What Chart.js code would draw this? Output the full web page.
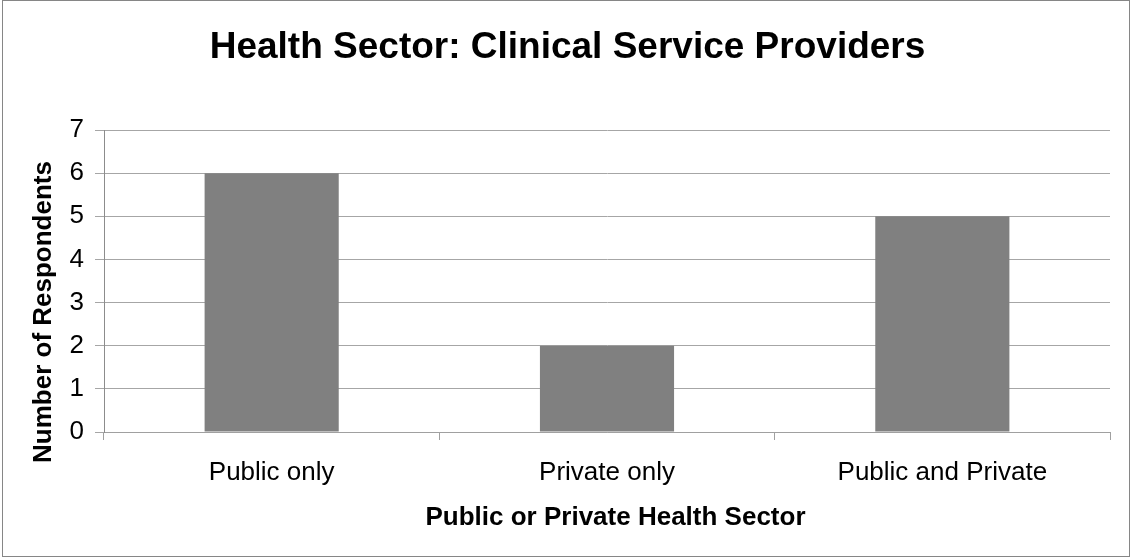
<!DOCTYPE html>
<html>
<head>
<meta charset="utf-8">
<script src="https://cdn.jsdelivr.net/npm/chart.js@4/dist/chart.umd.min.js"></script>
<style>
html,body{margin:0;padding:0;background:#fff;}
#wrap{width:1133px;height:559px;position:relative;}
</style>
</head>
<body>
<div id="wrap"><canvas id="c" width="1133" height="559"></canvas></div>
<script>
const chartTitle = "Health Sector: Clinical Service Providers";
const categories = ["Public only", "Private only", "Public and Private"];
const respondents = [6, 2, 5];
const yTickMin = 0;
const yTickMax = 7;
const xAxisTitle = "Public or Private Health Sector";
const yAxisTitle = "Number of Respondents";

const FONT = "'Liberation Sans', Arial, sans-serif";

const frameAndTitles = {
  id: 'frameAndTitles',
  beforeDraw(chart) {
    const ctx = chart.ctx;
    ctx.save();
    ctx.fillStyle = '#ffffff';
    ctx.fillRect(0, 0, chart.width, chart.height);
    ctx.strokeStyle = '#868686';
    ctx.lineWidth = 1;
    ctx.strokeRect(2.5, 0.5, 1127, 556);
    ctx.restore();
  },
  afterDraw(chart) {
    const ctx = chart.ctx;
    ctx.save();
    ctx.fillStyle = '#000';
    ctx.textAlign = 'center';
    ctx.textBaseline = 'alphabetic';
    // chart title
    ctx.font = "bold 37px " + FONT;
    ctx.fillText(chartTitle, 567.5, 57.5);
    // x axis title
    ctx.font = "bold 26px " + FONT;
    ctx.fillText(xAxisTitle, 615.5, 525);
    // y axis title
    ctx.translate(51, 312);
    ctx.rotate(-Math.PI / 2);
    ctx.fillText(yAxisTitle, 0, 0);
    ctx.restore();
  }
};

new Chart(document.getElementById('c'), {
  type: 'bar',
  data: {
    labels: categories,
    datasets: [{
      data: respondents,
      backgroundColor: '#808080',
      borderWidth: 0,
      barPercentage: 0.4,
      categoryPercentage: 1.0
    }]
  },
  plugins: [frameAndTitles],
  options: {
    responsive: false,
    animation: false,
    devicePixelRatio: 1,
    layout: { padding: { left: 0, right: 23, top: 130, bottom: 0 } },
    plugins: {
      legend: { display: false },
      tooltip: { enabled: false },
      title: { display: false }
    },
    scales: {
      x: {
        offset: true,
        grid: {
          offset: true,
          drawOnChartArea: false,
          drawTicks: true,
          tickLength: 8,
          color: '#a0a0a0'
        },
        border: { display: true, color: '#a0a0a0' },
        ticks: {
          color: '#000',
          font: { family: FONT, size: 26 },
          padding: 17,
          maxRotation: 0,
          autoSkip: false
        },
        afterFit(s) { s.height = 127; }
      },
      y: {
        min: yTickMin,
        max: yTickMax,
        grid: {
          color: '#a6a6a6',
          drawTicks: true,
          tickLength: 9
        },
        border: { display: true, color: '#8c8c8c' },
        ticks: {
          stepSize: 1,
          color: '#000',
          font: { family: FONT, size: 26 },
          padding: 11
        },
        afterFit(s) { s.width = 104; }
      }
    }
  }
});
</script>
</body>
</html>
